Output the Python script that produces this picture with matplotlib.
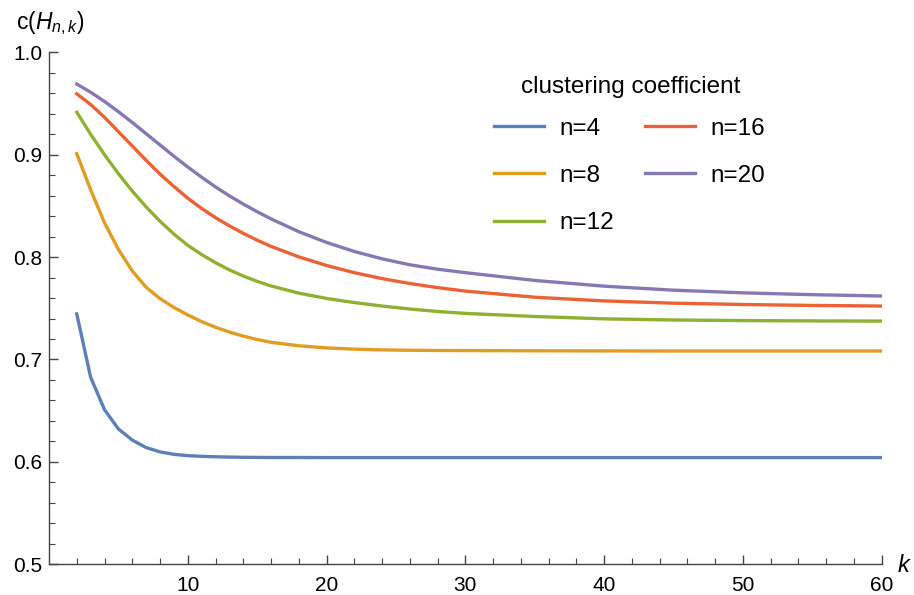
import matplotlib
matplotlib.use("Agg")
import matplotlib.pyplot as plt
from matplotlib.ticker import MultipleLocator

plt.rcParams['font.family'] = ['Liberation Sans', 'DejaVu Sans']
plt.rcParams['mathtext.fontset'] = 'custom'
plt.rcParams['mathtext.rm'] = 'Liberation Sans'
plt.rcParams['mathtext.it'] = 'Liberation Sans:italic'

# values
k_vals = [2, 3, 4, 5, 6, 7, 8, 9, 10, 11, 12, 13, 14, 15, 16,
          18, 20, 22, 24, 26, 28, 30, 35, 40, 45, 50, 55, 60]

c_n4 = [0.7445, 0.6827, 0.651, 0.6322, 0.6213, 0.6140, 0.6098, 0.6074, 0.6061, 0.6054, 0.6050, 0.6047, 0.6045, 0.6044, 0.6043,
        0.6043, 0.6042, 0.6042, 0.6042, 0.6042, 0.6042, 0.6042, 0.6042, 0.6042, 0.6042, 0.6042, 0.6042, 0.6042]
c_n8 = [0.901, 0.8658, 0.8335, 0.8075, 0.7865, 0.7705, 0.7595, 0.7508, 0.7435, 0.737, 0.7315, 0.7268, 0.7228, 0.7195, 0.7168,
        0.7134, 0.7113, 0.7101, 0.7094, 0.709, 0.7088, 0.7087, 0.7085, 0.7084, 0.7083, 0.7083, 0.7083, 0.7083]
c_n12 = [0.9415, 0.92, 0.9, 0.8815, 0.8645, 0.849, 0.835, 0.8225, 0.8115, 0.8025, 0.7945, 0.7875, 0.7815, 0.7763, 0.7718,
         0.7648, 0.7596, 0.7556, 0.7522, 0.7493, 0.7469, 0.745, 0.742, 0.7397, 0.7386, 0.738, 0.7377, 0.7375]
c_n16 = [0.9595, 0.949, 0.9365, 0.9225, 0.9085, 0.8945, 0.881, 0.869, 0.8575, 0.8475, 0.8385, 0.8305, 0.8232, 0.8165, 0.8105,
         0.8002, 0.7918, 0.7848, 0.779, 0.7742, 0.7702, 0.7668, 0.7608, 0.7572, 0.755, 0.7537, 0.7528, 0.7522]
c_n20 = [0.969, 0.961, 0.952, 0.942, 0.9315, 0.9205, 0.9095, 0.8985, 0.888, 0.878, 0.8685, 0.8598, 0.8518, 0.8443, 0.8373,
         0.8248, 0.8143, 0.8055, 0.7983, 0.7925, 0.7882, 0.7848, 0.7772, 0.7716, 0.7677, 0.7651, 0.7633, 0.762]

series = [("n=4", c_n4, "#5E81B5"),
          ("n=8", c_n8, "#E19C24"),
          ("n=12", c_n12, "#8FB032"),
          ("n=16", c_n16, "#EB6235"),
          ("n=20", c_n20, "#8778B3")]

fig = plt.figure(figsize=(9.14, 5.95), dpi=100)
ax = fig.add_axes([0.0536, 0.0516, 0.9111, 0.8605])

for label, vals, col in series:
    ax.plot(k_vals, vals, color=col, lw=2.4, label=label)

ax.set_xlim(0, 60)
ax.set_ylim(0.5, 1.0)
ax.xaxis.set_minor_locator(MultipleLocator(2))
ax.yaxis.set_minor_locator(MultipleLocator(0.02))
ax.set_xticks([10, 20, 30, 40, 50, 60])
ax.set_yticks([0.5, 0.6, 0.7, 0.8, 0.9, 1.0])
ax.set_yticklabels(["0.5", "0.6", "0.7", "0.8", "0.9", "1.0"])

for s in ['top', 'right']:
    ax.spines[s].set_visible(False)
for s in ['left', 'bottom']:
    ax.spines[s].set_color('#444444')
    ax.spines[s].set_linewidth(1.0)
ax.tick_params(which='both', direction='in', colors='#444444', labelcolor='black', labelsize=15)
ax.tick_params(which='major', length=6.5, width=1.0)
ax.tick_params(which='minor', length=4, width=0.8)
ax.tick_params(axis='x', which='major', pad=8.5)
ax.tick_params(axis='y', which='major', pad=5)

fig.text(0.0175, 0.962, r"c($H_{n,k}$)", fontsize=16.5, va='center', ha='left')
fig.text(0.982, 0.05, "k", fontsize=17, style='italic', va='center', ha='left')

# legend title as its own text so its gap to the rows can be set
fig.text(631 / 914, 1 - 87 / 595, "clustering coefficient", fontsize=17.5, ha='center', va='center')
leg = ax.legend(loc='upper left', bbox_to_anchor=(0.508, 0.915), ncol=2, frameon=False,
                fontsize=17.5, handlelength=2.06, handletextpad=0.62,
                columnspacing=1.29, labelspacing=1.04)

fig.savefig("out.png", dpi=100)
